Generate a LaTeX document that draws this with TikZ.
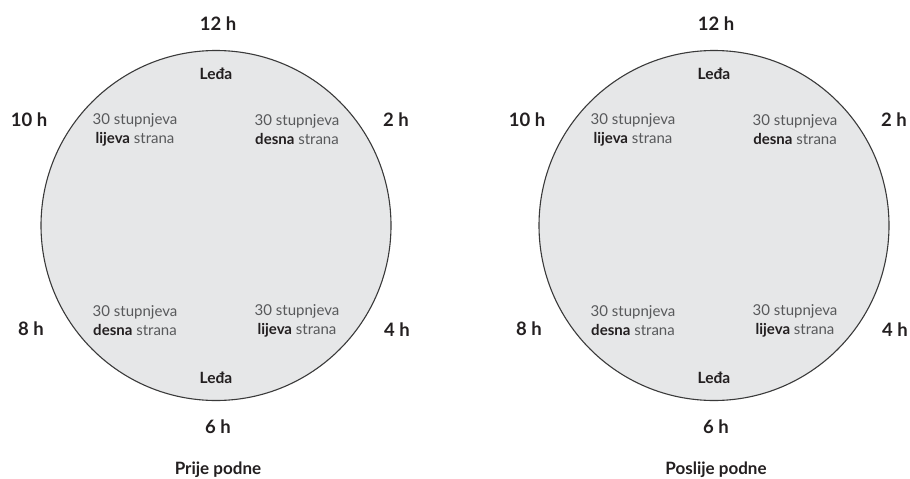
\documentclass[tikz,border=0pt]{standalone}
\usepackage{fontspec}
\setmainfont{Lato}
\definecolor{circfill}{HTML}{E6E7E8}
\definecolor{circline}{HTML}{3A3A3A}
\definecolor{darktext}{HTML}{231F20}
\definecolor{softtext}{HTML}{58595B}
\tikzset{
  dial/.style={circle, draw=circline, fill=circfill, line width=1.1pt, minimum size=350pt, inner sep=0pt},
  hour/.style={font=\fontsize{18.5}{21}\selectfont\bfseries, text=darktext, inner sep=0pt},
  back/.style={font=\fontsize{15.5}{18}\selectfont\bfseries, text=darktext, inner sep=0pt},
  deg/.style={font=\fontsize{15}{19}\selectfont, text=softtext, align=center, inner sep=0pt},
  title/.style={font=\fontsize{17}{20}\selectfont\bfseries, text=darktext, inner sep=0pt}
}
\begin{document}
\begin{tikzpicture}[x=1pt,y=-1pt]
\useasboundingbox (0,0) rectangle (910,479);
\foreach \cx/\id/\ttl in {216/L/Prije podne, 714/R/Poslije podne}{
  \node[dial] (c\id) at (\cx,225.5) {};
  \node[hour] (h12\id) at (\cx+2,24) {12 h};
  \node[hour] (h10\id) at (\cx-187,120) {10 h};
  \node[hour] (h2\id) at (\cx+180,120) {2 h};
  \node[hour] (h8\id) at (\cx-185,329) {8 h};
  \node[hour] (h4\id) at (\cx+181,330) {4 h};
  \node[hour] (h6\id) at (\cx+2,427) {6 h};
  \node[back] (lt\id) at (\cx,74) {Leđa};
  \node[back] (lb\id) at (\cx,378) {Leđa};
  \node[deg] (tl\id) at (\cx-81,129.5) {30 stupnjeva\\{\color{darktext}\bfseries lijeva} strana};
  \node[deg] (tr\id) at (\cx+81,129.5) {30 stupnjeva\\{\color{darktext}\bfseries desna} strana};
  \node[deg] (bl\id) at (\cx-81,321) {30 stupnjeva\\{\color{darktext}\bfseries desna} strana};
  \node[deg] (br\id) at (\cx+81,321) {30 stupnjeva\\{\color{darktext}\bfseries lijeva} strana};
  \node[title] (t\id) at (\cx+2,470) {\ttl};
}
\end{tikzpicture}
\end{document}
